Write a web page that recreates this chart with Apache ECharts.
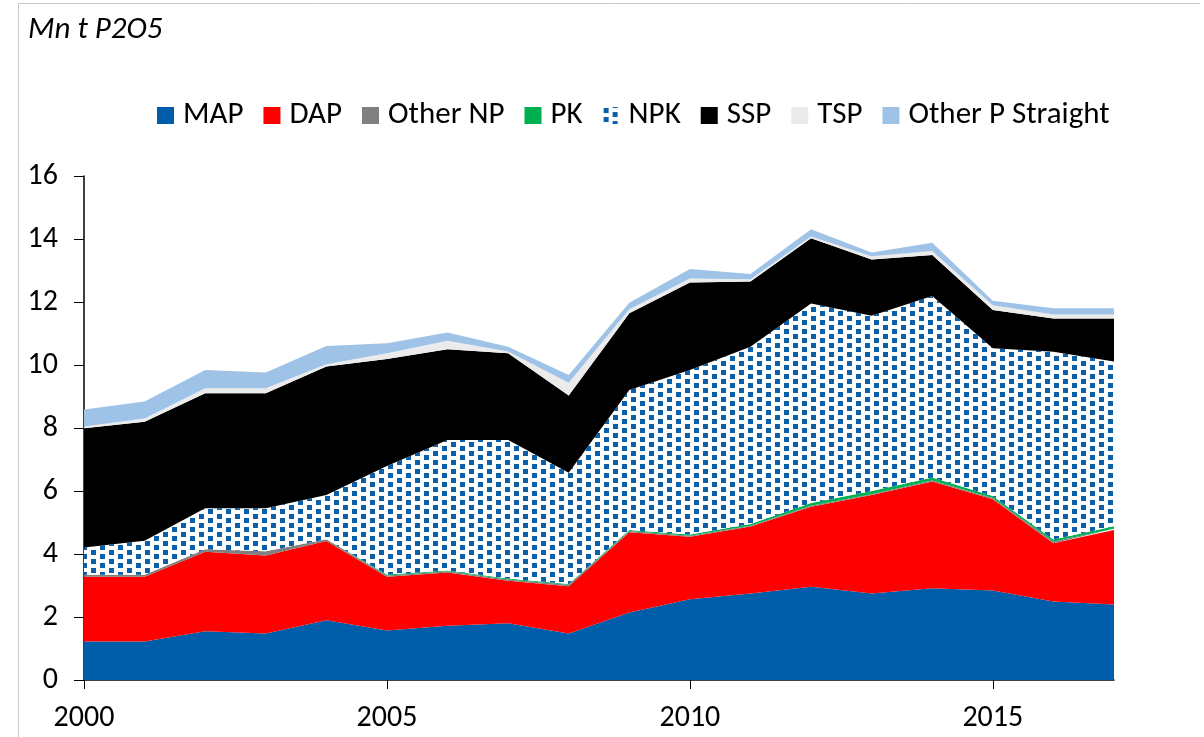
<!DOCTYPE html>
<html lang="en">
  <head>
    <meta charset="UTF-8" />
    <title>Mn t P2O5</title>
    <script src="https://cdn.jsdelivr.net/npm/echarts@6/dist/echarts.min.js"></script>
    <style>
      * {
        padding: 0;
        margin: 0;
      }
      #main {
        width: 1204px;
        height: 737px;
      }
    </style>
  </head>
  <body>
    <div id="main"></div>
    <script>
      var years = ["2000", "2001", "2002", "2003", "2004", "2005", "2006", "2007", "2008",
        "2009", "2010", "2011", "2012", "2013", "2014", "2015", "2016", "2017"];
      var yTicks = [0, 16, 2];

      var mapData = [1.22, 1.22, 1.55, 1.48, 1.9, 1.57, 1.72, 1.8, 1.48, 2.14, 2.56, 2.75, 2.96, 2.75, 2.91, 2.84, 2.49, 2.4];
      var dapData = [2.06, 2.06, 2.52, 2.47, 2.51, 1.71, 1.69, 1.35, 1.5, 2.55, 1.99, 2.12, 2.54, 3.12, 3.39, 2.9, 1.85, 2.36];
      var otherNpData = [0.06, 0.06, 0.08, 0.14, 0.06, 0.04, 0.04, 0.04, 0.04, 0.04, 0.03, 0.03, 0.03, 0.03, 0.03, 0.04, 0.06, 0.04];
      var pkData = [0, 0, 0, 0, 0, 0.03, 0.03, 0.03, 0.03, 0.03, 0.04, 0.05, 0.09, 0.1, 0.1, 0.06, 0.06, 0.08];
      var npkData = [0.87, 1.08, 1.3, 1.36, 1.4, 3.44, 4.14, 4.4, 3.53, 4.45, 5.22, 5.63, 6.33, 5.56, 5.76, 4.69, 5.96, 5.23];
      var sspData = [3.78, 3.78, 3.65, 3.65, 4.08, 3.4, 2.88, 2.75, 2.45, 2.43, 2.78, 2.07, 2.07, 1.79, 1.3, 1.22, 1.06, 1.37];
      var tspData = [0.06, 0.1, 0.16, 0.16, 0.07, 0.18, 0.27, 0.06, 0.41, 0.13, 0.13, 0.07, 0.06, 0.1, 0.13, 0.15, 0.12, 0.12];
      var otherPData = [0.54, 0.54, 0.58, 0.5, 0.58, 0.32, 0.26, 0.15, 0.24, 0.21, 0.3, 0.17, 0.23, 0.12, 0.26, 0.14, 0.2, 0.2];

      // dotted fill for NPK
      var tile = document.createElement("canvas");
      tile.width = 18;
      tile.height = 18;
      var ctx = tile.getContext("2d");
      ctx.fillStyle = "#ffffff";
      ctx.fillRect(0, 0, 18, 18);
      ctx.fillStyle = "#0a5fa8";
      [[1, 1], [10, 5], [1, 10], [10, 14]].forEach(function (p) {
        ctx.fillRect(p[0], p[1], 5, 5);
        ctx.fillRect(p[0], p[1] - 18, 5, 5);
      });

      var fontFam = "Carlito, Lato, sans-serif";

      function area(name, data, color) {
        return {
          name: name,
          type: "line",
          stack: "total",
          symbol: "none",
          lineStyle: { width: 0 },
          areaStyle: { color: color, opacity: 1 },
          itemStyle: { color: color },
          emphasis: { disabled: true },
          data: data,
        };
      }

      var myChart = echarts.init(document.getElementById("main"));
      var option = {
        backgroundColor: "#ffffff",
        animation: false,
        textStyle: { fontFamily: fontFam },
        graphic: [
          {
            type: "polyline",
            shape: { points: [[18.5, 800], [18.5, 3.5], [1200, 3.5]] },
            style: { stroke: "#c8c8c8", lineWidth: 1, fill: null },
          },
          {
            type: "text",
            left: 28,
            top: 15,
            style: {
              text: "Mn t P2O5",
              font: "italic 31px " + fontFam,
              fill: "#000",
            },
          },
        ],
        legend: {
          left: 152,
          top: 95,
          itemWidth: 17,
          itemHeight: 17,
          itemGap: 20,
          icon: "rect",
          textStyle: { fontSize: 31, color: "#000", padding: [0, 0, 0, 4] },
          data: ["MAP", "DAP", "Other NP", "PK", "NPK", "SSP", "TSP", "Other P Straight"],
        },
        grid: { left: 84, right: 90, top: 176, bottom: 57, containLabel: false },
        xAxis: {
          type: "category",
          boundaryGap: false,
          data: years,
          axisLine: { lineStyle: { color: "#000", width: 1.5 } },
          axisTick: {
            show: true,
            length: 9,
            interval: function (i) { return i % 5 === 0; },
            lineStyle: { color: "#000" },
          },
          axisLabel: {
            interval: function (i) { return i % 5 === 0; },
            fontSize: 30,
            color: "#000",
            margin: 23,
          },
        },
        yAxis: {
          type: "value",
          min: yTicks[0],
          max: yTicks[1],
          interval: yTicks[2],
          axisLine: { show: true, lineStyle: { color: "#000", width: 1.5 } },
          axisTick: { show: true, length: 10, lineStyle: { color: "#000" } },
          axisLabel: { fontSize: 30, color: "#000", margin: 26 },
          splitLine: { show: false },
        },
        series: [
          area("MAP", mapData, "#005daa"),
          area("DAP", dapData, "#ff0000"),
          area("Other NP", otherNpData, "#808080"),
          area("PK", pkData, "#00b050"),
          area("NPK", npkData, { image: tile, repeat: "repeat" }),
          area("SSP", sspData, "#000000"),
          area("TSP", tspData, "#ebebeb"),
          area("Other P Straight", otherPData, "#9fc3e7"),
        ],
      };
      myChart.setOption(option);
    </script>
  </body>
</html>
